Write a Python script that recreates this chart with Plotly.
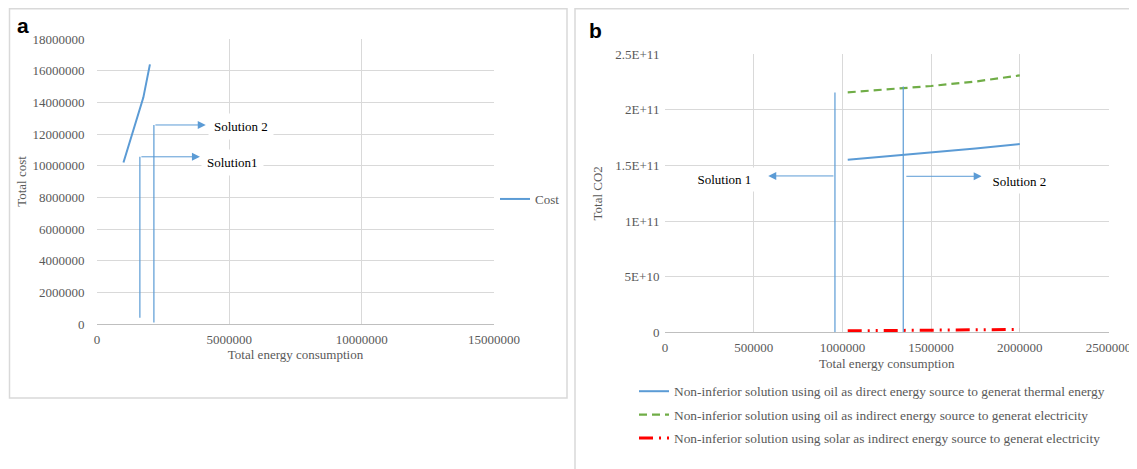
import plotly.graph_objects as go

# page is 1137x469; the html body has an 8px margin, so the figure is drawn 8px in
W, H = 1137, 469
OFF = 8
FW, FH = W - OFF, H - OFF


def px(x):
    return (x - OFF) / FW


def py(y):
    return 1 - (y - OFF) / FH


# ---------------- data ----------------
cost_energy = [1000000, 1750000, 2000000]
cost_values = [10200000, 14300000, 16400000]

co2_energy = [1030000, 1500000, 1750000, 2000000]
oil_direct_thermal = [155.2e9, 161.5e9, 165.2e9, 169.3e9]
oil_indirect_elec = [215.8e9, 221.5e9, 225.5e9, 231.0e9]
solar_indirect_elec = [1.3e9, 1.9e9, 2.2e9, 2.6e9]

a_xticks = [0, 5000000, 10000000, 15000000]
a_yticks = [0, 2000000, 4000000, 6000000, 8000000, 10000000, 12000000, 14000000, 16000000, 18000000]
b_xticks = [0, 500000, 1000000, 1500000, 2000000, 2500000]
b_yticks = [0, 5e10, 1e11, 1.5e11, 2e11, 2.5e11]
b_yticktext = ["0", "5E+10", "1E+11", "1.5E+11", "2E+11", "2.5E+11"]

# solution markers (panel a): label, x, bottom, top, arrow tip x, label x, label y
a_solutions = [("Solution1", 1620000, 400000, 10560000, 3890000, 5130000, 10190000),
               ("Solution 2", 2150000, 100000, 12570000, 4110000, 5450000, 12460000)]
# panel b: label, x, top, arrow y, tail x, tip x, label x, label y
b_solutions = [("Solution 1", 958000, 215.6e9, 140.6e9, 958000, 582000, 332600, 137e9),
               ("Solution 2", 1343000, 221e9, 140.3e9, 1352000, 1785000, 1998000, 135.4e9)]

SERIF = "Liberation Serif"
GRAY = "#595959"
GRID = "#D9D9D9"
BLUE = "#5B9BD5"

fig = go.Figure()

fig.add_trace(go.Scatter(x=cost_energy, y=cost_values, mode="lines", name="Cost",
                         line=dict(color=BLUE, width=2), xaxis="x", yaxis="y",
                         legend="legend"))

fig.add_trace(go.Scatter(x=co2_energy, y=oil_direct_thermal, mode="lines",
                         name="Non-inferior solution using oil as direct energy source to generat thermal energy",
                         line=dict(color=BLUE, width=2), xaxis="x2", yaxis="y2",
                         legend="legend2", legendgroup="g1"))
fig.add_trace(go.Scatter(x=co2_energy, y=oil_indirect_elec, mode="lines",
                         name="Non-inferior solution using oil as indirect energy source to generat electricity",
                         line=dict(color="#70AD47", width=2.2, dash="8px,5px"), xaxis="x2", yaxis="y2",
                         legend="legend2", legendgroup="g2"))
fig.add_trace(go.Scatter(x=co2_energy, y=solar_indirect_elec, mode="lines",
                         name="Non-inferior solution using solar as indirect energy source to generat electricity",
                         line=dict(color="#FF0000", width=3, dash="14px,6px,2px,6px,2px,6px"), xaxis="x2", yaxis="y2",
                         legend="legend2", legendgroup="g3"))

shapes = []
annotations = []

# panel borders
shapes.append(dict(type="rect", xref="paper", yref="paper",
                   x0=px(9.5), x1=px(567), y0=py(398), y1=py(8.8),
                   line=dict(color="#D9D9D9", width=1.5), layer="below"))
shapes.append(dict(type="rect", xref="paper", yref="paper",
                   x0=px(575), x1=1.02, y0=-0.03, y1=py(8.8),
                   line=dict(color="#D9D9D9", width=1.5), layer="below"))

for label, x, yb, yt, tip, lx, ly in a_solutions:
    shapes.append(dict(type="line", xref="x", yref="y", x0=x, x1=x, y0=yb, y1=yt,
                       line=dict(color=BLUE, width=1.2)))
    annotations.append(dict(x=tip, y=yt, ax=x, ay=yt, xref="x", yref="y", axref="x", ayref="y",
                            text="", showarrow=True, arrowhead=2, arrowsize=1.6, arrowwidth=1,
                            arrowcolor=BLUE))
    annotations.append(dict(x=lx, y=ly, xref="x", yref="y", text=label, showarrow=False,
                            font=dict(family=SERIF, size=13, color="#000000"),
                            bgcolor="white", borderpad=5))

for label, x, yt, ya, tail, tip, lx, ly in b_solutions:
    shapes.append(dict(type="line", xref="x2", yref="y2", x0=x, x1=x, y0=0, y1=yt,
                       line=dict(color=BLUE, width=1.2)))
    annotations.append(dict(x=tip, y=ya, ax=tail, ay=ya, xref="x2", yref="y2", axref="x2", ayref="y2",
                            text="", showarrow=True, arrowhead=2, arrowsize=1.6, arrowwidth=1,
                            arrowcolor=BLUE))
    annotations.append(dict(x=lx, y=ly, xref="x2", yref="y2", text="  " + label + "  ", showarrow=False,
                            font=dict(family=SERIF, size=13, color="#000000"),
                            bgcolor="white", borderpad=4))

# panel letters
annotations.append(dict(x=px(15), y=py(25), xref="paper", yref="paper", text="<b>a</b>",
                        showarrow=False, xanchor="left", yanchor="middle",
                        font=dict(family="Liberation Sans", size=21, color="#000000")))
annotations.append(dict(x=px(587), y=py(30), xref="paper", yref="paper", text="<b>b</b>",
                        showarrow=False, xanchor="left", yanchor="middle",
                        font=dict(family="Liberation Sans", size=21, color="#000000")))

axis_common = dict(showgrid=True, gridcolor=GRID, gridwidth=1, zeroline=False,
                   showline=False, ticks="outside", tickcolor="rgba(0,0,0,0)",
                   tickfont=dict(family=SERIF, size=13, color=GRAY),
                   fixedrange=True, automargin=False)
title_font = dict(family=SERIF, size=13, color=GRAY)

fig.update_layout(
    width=FW, height=FH, autosize=False,
    margin=dict(l=0, r=0, t=0, b=0, pad=0, autoexpand=False),
    paper_bgcolor="white", plot_bgcolor="white",
    font=dict(family=SERIF, size=13, color=GRAY),
    shapes=shapes, annotations=annotations,
    xaxis=dict(**axis_common, domain=[px(97), px(494)], range=[0, 15000000], ticklen=3,
               tickvals=a_xticks, ticktext=[str(v) for v in a_xticks], anchor="y",
               title=dict(text="Total energy consumption", standoff=3, font=title_font)),
    yaxis=dict(**axis_common, domain=[py(324), py(39)], range=[0, 18000000], ticklen=9,
               tickvals=a_yticks, ticktext=[str(v) for v in a_yticks], anchor="x",
               title=dict(text="Total cost", standoff=2, font=title_font)),
    xaxis2=dict(**axis_common, domain=[px(665), px(1108.5)], range=[0, 2500000], ticklen=3,
                tickvals=b_xticks, ticktext=[str(v) for v in b_xticks], anchor="y2",
                title=dict(text="Total energy consumption", standoff=4, font=title_font)),
    yaxis2=dict(**axis_common, domain=[py(332.3), py(54.3)], range=[0, 2.5e11], ticklen=2,
                tickvals=b_yticks, ticktext=b_yticktext, anchor="x2",
                title=dict(text="Total CO2", standoff=9, font=title_font)),
    legend=dict(x=px(495), y=py(199), xanchor="left", yanchor="middle",
                bgcolor="rgba(0,0,0,0)", font=dict(family=SERIF, size=13, color=GRAY)),
    legend2=dict(x=px(634), y=py(376), xanchor="left", yanchor="top",
                 bgcolor="rgba(0,0,0,0)", traceorder="grouped", tracegroupgap=3,
                 font=dict(family=SERIF, size=13.4, color=GRAY)),
    showlegend=True,
)

# darker bottom axis lines
fig.update_xaxes(showline=True, linecolor="#BFBFBF", linewidth=1)

fig.write_html("out.html")
